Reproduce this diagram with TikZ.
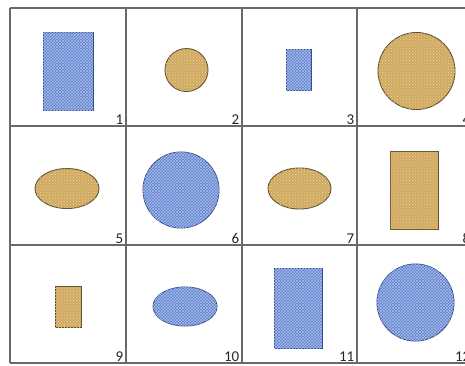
\documentclass[tikz,border=0pt]{standalone}
\usepackage{fontspec}
\setmainfont{Carlito}
\usetikzlibrary{patterns,shapes.geometric}
\definecolor{bluefill}{RGB}{92,126,205}
\definecolor{bluetex}{RGB}{170,190,235}
\definecolor{blueedge}{RGB}{45,65,135}
\definecolor{tanfill}{RGB}{208,170,98}
\definecolor{tantex}{RGB}{235,210,150}
\definecolor{tanedge}{RGB}{95,78,45}
\definecolor{gridc}{RGB}{105,105,105}
\begin{document}
\begin{tikzpicture}[x=1pt,y=-1pt,
  shp/.style={inner sep=0pt, outer sep=0pt, line width=0.9pt},
  blueshape/.style={shp, draw=blueedge, fill=bluefill, postaction={pattern=crosshatch, pattern color=bluetex}},
  tanshape/.style={shp, draw=tanedge, fill=tanfill, postaction={pattern=crosshatch dots, pattern color=tantex}},
  rect/.style={rectangle, minimum width=#1},
  rh/.style={minimum height=#1},
  circ/.style={circle, minimum size=#1},
  ell/.style={ellipse, minimum width=64pt, minimum height=40pt},
  num/.style={anchor=south east, inner sep=0.5pt, font=\fontsize{15}{15}\selectfont, text=black!85},
  gridline/.style={draw=gridc, line width=1.3pt}]
\useasboundingbox (0,0) rectangle (465,365);
\clip (0,0) rectangle (465,365);
\fill[white] (0,0) rectangle (465,365);
% grid
\foreach \x in {10,126,242,357,473} \draw[gridline] (\x,8) -- (\x,363);
\foreach \y in {8,126,245,363} \draw[gridline] (10,\y) -- (473,\y);
% row 1
\node[blueshape, rect=50pt, rh=78pt] (s1) at (68,71) {};
\node[tanshape, circ=43pt] (s2) at (186.5,70) {};
\node[blueshape, rect=25pt, rh=41pt] (s3) at (298.5,69.5) {};
\node[tanshape, circ=77pt] (s4) at (416.5,71) {};
% row 2
\node[tanshape, ell] (s5) at (67,188.5) {};
\node[blueshape, circ=76pt] (s6) at (181,190) {};
\node[tanshape, ell, minimum width=63pt, minimum height=41pt] (s7) at (299.5,188.5) {};
\node[tanshape, rect=48pt, rh=78pt] (s8) at (414,190) {};
% row 3
\node[tanshape, rect=26pt, rh=41pt] (s9) at (68,306.5) {};
\node[blueshape, ell, minimum height=39pt] (s10) at (185,306.5) {};
\node[blueshape, rect=48pt, rh=80pt] (s11) at (298,308) {};
\node[blueshape, circ=77pt] (s12) at (415.5,302.5) {};
% numbers
\node[num] (n1) at (124,125) {1};
\node[num] (n2) at (240,125) {2};
\node[num] (n3) at (355,125) {3};
\node[num] (n4) at (471,125) {4};
\node[num] (n5) at (124,244) {5};
\node[num] (n6) at (240,244) {6};
\node[num] (n7) at (355,244) {7};
\node[num] (n8) at (471,244) {8};
\node[num] (n9) at (124,362) {9};
\node[num] (n10) at (240,362) {10};
\node[num] (n11) at (355,362) {11};
\node[num] (n12) at (471,362) {12};
\end{tikzpicture}
\end{document}
